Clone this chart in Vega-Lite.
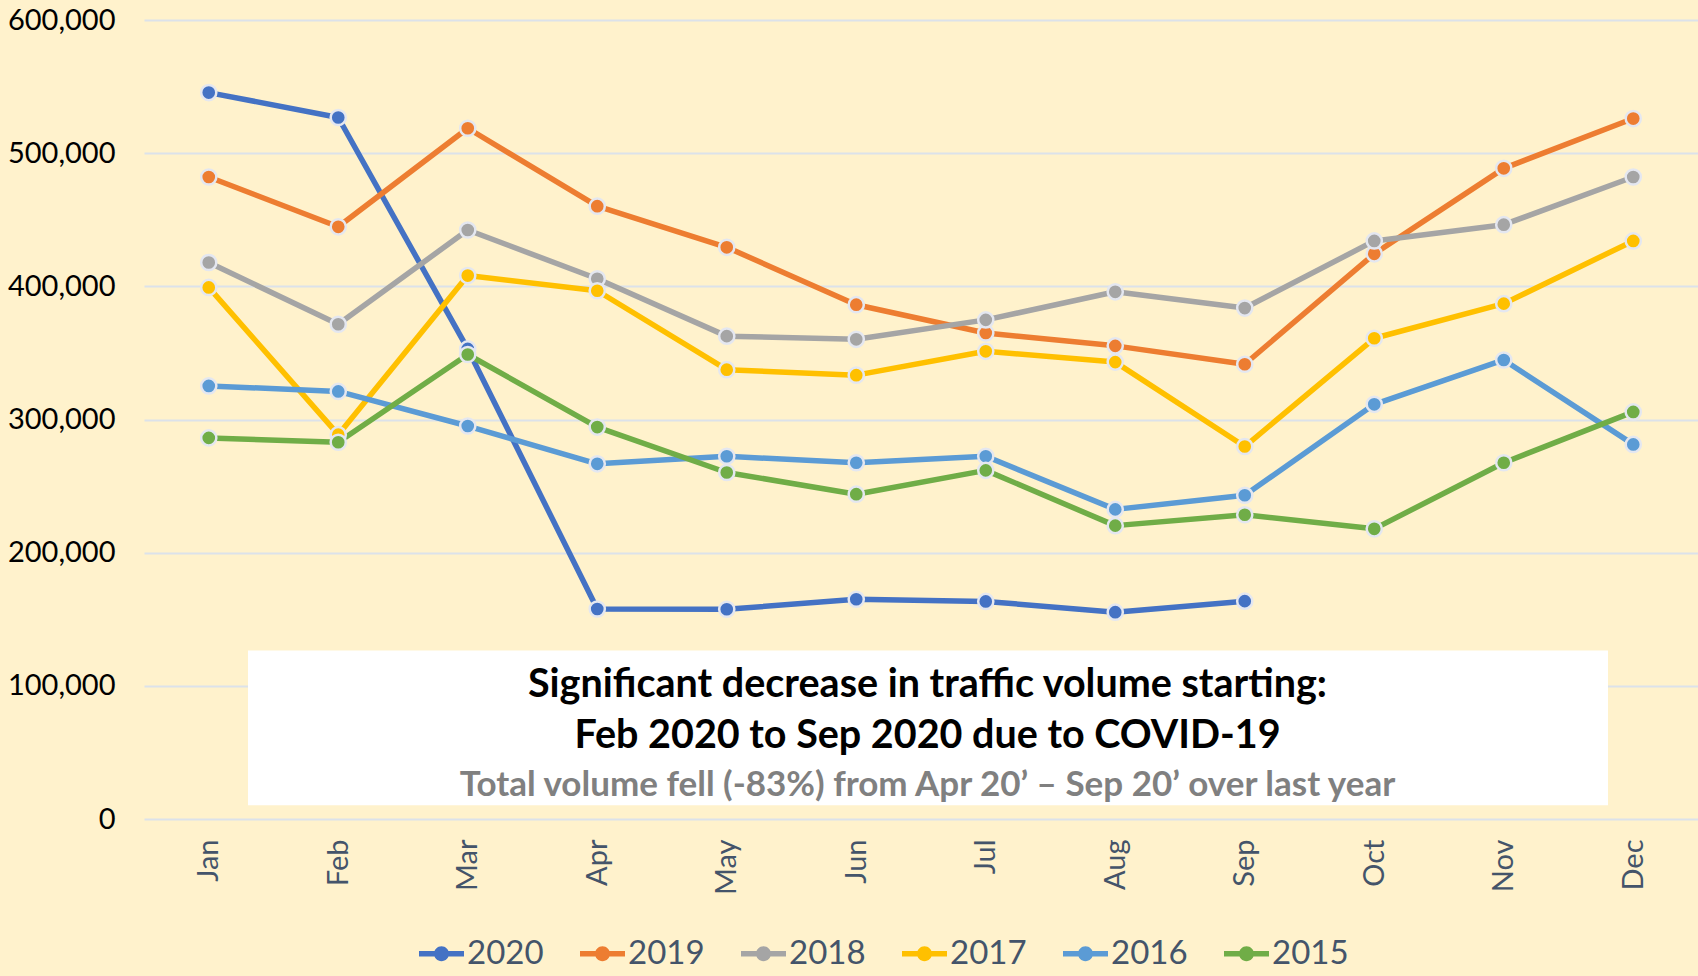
{
  "$schema": "https://vega.github.io/schema/vega-lite/v6.json",
  "autosize": {"type": "none"},
  "width": 1554,
  "height": 799,
  "padding": {"left": 144, "top": 20, "right": 0, "bottom": 157},
  "background": "#FFF2CC",
  "config": {
    "view": {"stroke": null},
    "font": "Lato"
  },
  "datasets": {
    "traffic": [
      {"month": "Jan", "year": "2020", "value": 545500},
      {"month": "Feb", "year": "2020", "value": 526800},
      {"month": "Mar", "year": "2020", "value": 353000},
      {"month": "Apr", "year": "2020", "value": 157700},
      {"month": "May", "year": "2020", "value": 157500},
      {"month": "Jun", "year": "2020", "value": 165000},
      {"month": "Jul", "year": "2020", "value": 163400},
      {"month": "Aug", "year": "2020", "value": 155300},
      {"month": "Sep", "year": "2020", "value": 163600},
      {"month": "Jan", "year": "2019", "value": 482100},
      {"month": "Feb", "year": "2019", "value": 444700},
      {"month": "Mar", "year": "2019", "value": 518700},
      {"month": "Apr", "year": "2019", "value": 460200},
      {"month": "May", "year": "2019", "value": 429300},
      {"month": "Jun", "year": "2019", "value": 386200},
      {"month": "Jul", "year": "2019", "value": 365000},
      {"month": "Aug", "year": "2019", "value": 355300},
      {"month": "Sep", "year": "2019", "value": 341500},
      {"month": "Oct", "year": "2019", "value": 424400},
      {"month": "Nov", "year": "2019", "value": 488600},
      {"month": "Dec", "year": "2019", "value": 526000},
      {"month": "Jan", "year": "2018", "value": 417900},
      {"month": "Feb", "year": "2018", "value": 371500},
      {"month": "Mar", "year": "2018", "value": 442300},
      {"month": "Apr", "year": "2018", "value": 405700},
      {"month": "May", "year": "2018", "value": 362600},
      {"month": "Jun", "year": "2018", "value": 360200},
      {"month": "Jul", "year": "2018", "value": 374800},
      {"month": "Aug", "year": "2018", "value": 395900},
      {"month": "Sep", "year": "2018", "value": 383700},
      {"month": "Oct", "year": "2018", "value": 434100},
      {"month": "Nov", "year": "2018", "value": 446300},
      {"month": "Dec", "year": "2018", "value": 482100},
      {"month": "Jan", "year": "2017", "value": 399200},
      {"month": "Feb", "year": "2017", "value": 288600},
      {"month": "Mar", "year": "2017", "value": 408100},
      {"month": "Apr", "year": "2017", "value": 396700},
      {"month": "May", "year": "2017", "value": 337400},
      {"month": "Jun", "year": "2017", "value": 333300},
      {"month": "Jul", "year": "2017", "value": 351200},
      {"month": "Aug", "year": "2017", "value": 343100},
      {"month": "Sep", "year": "2017", "value": 279700},
      {"month": "Oct", "year": "2017", "value": 361000},
      {"month": "Nov", "year": "2017", "value": 387000},
      {"month": "Dec", "year": "2017", "value": 434100},
      {"month": "Jan", "year": "2016", "value": 325200},
      {"month": "Feb", "year": "2016", "value": 321100},
      {"month": "Mar", "year": "2016", "value": 295100},
      {"month": "Apr", "year": "2016", "value": 266700},
      {"month": "May", "year": "2016", "value": 272400},
      {"month": "Jun", "year": "2016", "value": 267500},
      {"month": "Jul", "year": "2016", "value": 272400},
      {"month": "Aug", "year": "2016", "value": 232500},
      {"month": "Sep", "year": "2016", "value": 243100},
      {"month": "Oct", "year": "2016", "value": 311400},
      {"month": "Nov", "year": "2016", "value": 344700},
      {"month": "Dec", "year": "2016", "value": 281300},
      {"month": "Jan", "year": "2015", "value": 286200},
      {"month": "Feb", "year": "2015", "value": 282900},
      {"month": "Mar", "year": "2015", "value": 348800},
      {"month": "Apr", "year": "2015", "value": 294300},
      {"month": "May", "year": "2015", "value": 260200},
      {"month": "Jun", "year": "2015", "value": 243900},
      {"month": "Jul", "year": "2015", "value": 261800},
      {"month": "Aug", "year": "2015", "value": 220300},
      {"month": "Sep", "year": "2015", "value": 228500},
      {"month": "Oct", "year": "2015", "value": 217900},
      {"month": "Nov", "year": "2015", "value": 267500},
      {"month": "Dec", "year": "2015", "value": 305700}
    ],
    "box": [
      {"x1": 0.803, "x2": 11.305, "y1": 10300, "y2": 126600}
    ],
    "heads": [
      {"x": 6.05, "y": 100500, "text": "Significant decrease in traffic volume starting:"},
      {"x": 6.05, "y": 62200, "text": "Feb 2020 to Sep 2020 due to COVID-19"}
    ],
    "subs": [
      {"x": 6.05, "y": 25700, "text": "Total volume fell (-83%) from Apr 20’ – Sep 20’ over last year"}
    ]
  },
  "resolve": {"scale": {"x": "independent"}, "axis": {"x": "independent"}},
  "layer": [
    {
      "data": {"name": "traffic"},
      "mark": {"type": "line", "strokeWidth": 5.5, "strokeCap": "round", "strokeJoin": "round"},
      "encoding": {
        "x": {
          "field": "month", "type": "ordinal",
          "sort": ["Jan","Feb","Mar","Apr","May","Jun","Jul","Aug","Sep","Oct","Nov","Dec"],
          "scale": {"type": "point", "padding": 0.5},
          "axis": {
            "title": null, "labelAngle": -90, "labelFontSize": 29, "labelColor": "#44546A",
            "labelPadding": 20, "ticks": false, "domain": false, "grid": false
          }
        },
        "y": {
          "field": "value", "type": "quantitative",
          "scale": {"domain": [0, 600000], "nice": false},
          "axis": {
            "title": null, "values": [0,100000,200000,300000,400000,500000,600000],
            "format": ",.0f", "labelFontSize": 29, "labelColor": "#000000",
            "labelPadding": 29, "ticks": false, "domain": false,
            "gridColor": "#DCE2EA", "gridWidth": 2
          }
        },
        "color": {
          "field": "year", "type": "nominal",
          "scale": {
            "domain": ["2020","2019","2018","2017","2016","2015"],
            "range": ["#4472C4","#ED7D31","#A5A5A5","#FFC000","#5B9BD5","#70AD47"]
          },
          "legend": {
            "title": null, "orient": "none", "direction": "horizontal",
            "legendX": 275, "legendY": 911,
            "symbolType": "M-1,-0.12H1V0.12H-1Z M0.33,0 A0.33,0.33 0 1,1 -0.33,0 A0.33,0.33 0 1,1 0.33,0 Z",
            "symbolSize": 2025, "symbolStrokeWidth": 0,
            "labelFontSize": 33, "labelColor": "#44546A", "labelOffset": 3,
            "columnPadding": 36,
            "encode": {"symbols": {"update": {"fill": {"scale": "color", "field": "value"}, "stroke": {"value": "transparent"}}}}
          }
        }
      }
    },
    {
      "data": {"name": "traffic"},
      "mark": {"type": "point", "filled": true, "size": 230, "stroke": "#E4E7F0", "strokeWidth": 2.5, "opacity": 1},
      "encoding": {
        "x": {"field": "month", "type": "ordinal", "sort": ["Jan","Feb","Mar","Apr","May","Jun","Jul","Aug","Sep","Oct","Nov","Dec"], "scale": {"type": "point", "padding": 0.5}, "axis": null},
        "y": {"field": "value", "type": "quantitative"},
        "fill": {"field": "year", "type": "nominal", "scale": {"domain": ["2020","2019","2018","2017","2016","2015"], "range": ["#4472C4","#ED7D31","#A5A5A5","#FFC000","#5B9BD5","#70AD47"]}, "legend": null}
      }
    },
    {
      "data": {"name": "box"},
      "mark": {"type": "rect", "fill": "#FFFFFF"},
      "encoding": {
        "x": {"field": "x1", "type": "quantitative", "scale": {"domain": [0, 12], "nice": false, "zero": false}, "axis": null},
        "x2": {"field": "x2"},
        "y": {"field": "y1", "type": "quantitative"},
        "y2": {"field": "y2"}
      }
    },
    {
      "data": {"name": "heads"},
      "mark": {"type": "text", "fontWeight": "bold", "align": "center", "baseline": "middle", "fontSize": 39.5, "fill": "#000000"},
      "encoding": {
        "x": {"field": "x", "type": "quantitative", "scale": {"domain": [0, 12], "nice": false, "zero": false}, "axis": null},
        "y": {"field": "y", "type": "quantitative"},
        "text": {"field": "text"}
      }
    },
    {
      "data": {"name": "subs"},
      "mark": {"type": "text", "fontWeight": "bold", "align": "center", "baseline": "middle", "fontSize": 35, "fill": "#808080"},
      "encoding": {
        "x": {"field": "x", "type": "quantitative", "scale": {"domain": [0, 12], "nice": false, "zero": false}, "axis": null},
        "y": {"field": "y", "type": "quantitative"},
        "text": {"field": "text"}
      }
    }
  ]
}
